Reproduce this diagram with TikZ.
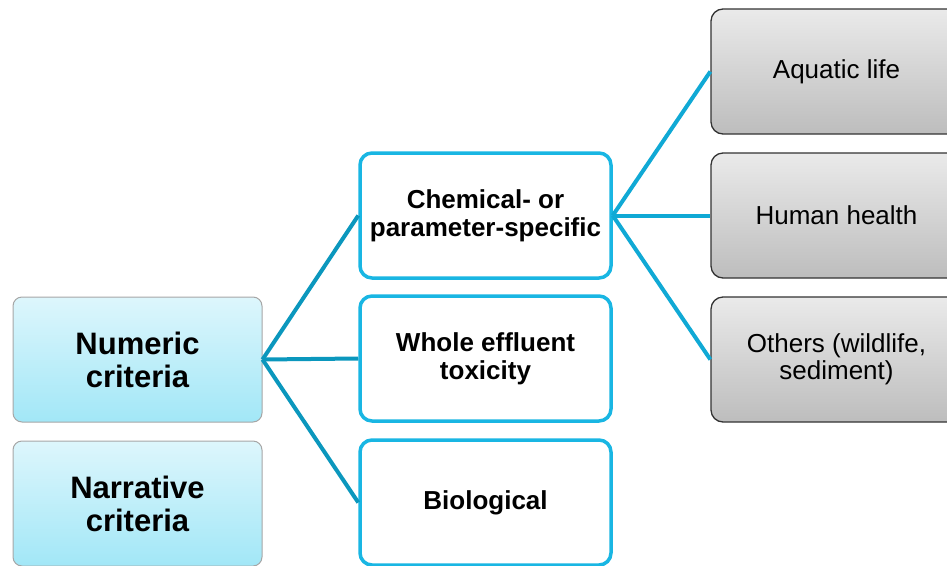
\documentclass[tikz,border=0pt]{standalone}
\usepackage{fontspec}
\setmainfont{Liberation Sans}
\definecolor{lineL}{HTML}{0B97BD}
\definecolor{lineR}{HTML}{10A9D5}
\definecolor{cyanbd}{HTML}{19B6E3}
\definecolor{numtop}{HTML}{DDF6FC}
\definecolor{numbot}{HTML}{A2E7F7}
\definecolor{graytop}{HTML}{EAEAEA}
\definecolor{graybot}{HTML}{BDBDBD}
\tikzset{
  crit/.style={draw=black!35, line width=1pt, rounded corners=9pt, top color=numtop, bottom color=numbot,
    minimum width=249pt, minimum height=125pt, align=center, inner sep=0pt,
    font=\fontsize{31}{33}\selectfont\bfseries},
  midbox/.style={draw=cyanbd, line width=3.5pt, rounded corners=12pt, fill=white,
    minimum width=251pt, minimum height=125pt, align=center, inner sep=0pt,
    font=\fontsize{26}{28}\selectfont\bfseries},
  graybox/.style={draw=black!80, line width=1.3pt, rounded corners=12pt, top color=graytop, bottom color=graybot,
    minimum width=251pt, minimum height=125pt, align=center, inner sep=0pt,
    font=\fontsize{26}{27}\selectfont},
  connL/.style={draw=lineL, line width=4pt},
  connR/.style={draw=lineR, line width=4pt}
}
\begin{document}
\begin{tikzpicture}[x=1pt,y=-1pt]
\useasboundingbox (0,0) rectangle (947,565);
\clip (0,0) rectangle (947,565);
\node[crit] (num) at (137.5,359.5) {Numeric\\criteria};
\node[crit] (nar) at (137.5,503.5) {Narrative\\criteria};
\node[midbox] (chem) at (485.5,215.5) {Chemical- or\\parameter-specific};
\node[midbox] (whole) at (485.5,358.5) {Whole effluent\\toxicity};
\node[midbox] (bio) at (485.5,502.5) {Biological};
\node[graybox] (aqua) at (836.5,71.5) {Aquatic life};
\node[graybox] (human) at (836.5,215.5) {Human health};
\node[graybox] (others) at (836.5,359.5) {Others (wildlife,\\sediment)};
\draw[connL] (num.east) -- (chem.west);
\draw[connL] (num.east) -- (whole.west);
\draw[connL] (num.east) -- (bio.west);
\draw[connR] (chem.east) -- (aqua.west);
\draw[connR] (chem.east) -- (human.west);
\draw[connR] (chem.east) -- (others.west);
\end{tikzpicture}
\end{document}
